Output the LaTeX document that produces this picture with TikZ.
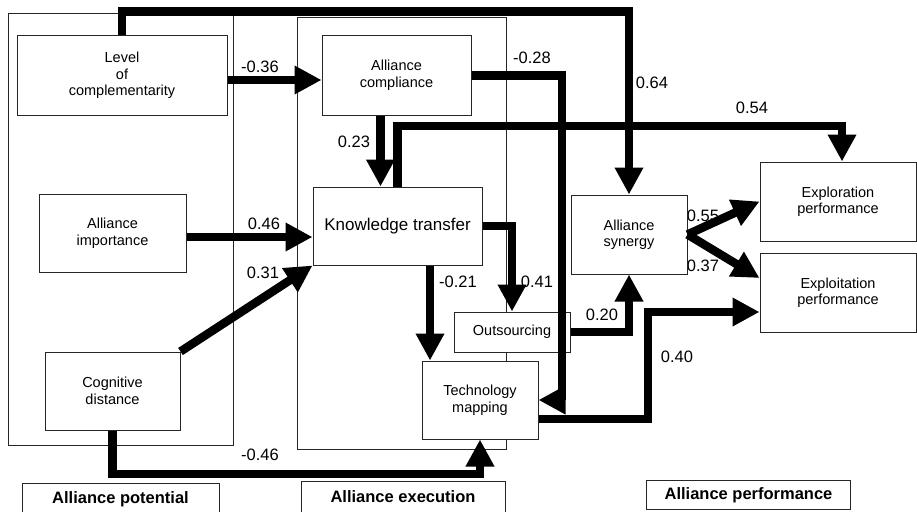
\documentclass[tikz,border=0pt]{standalone}
\usepackage{fontspec}
\setmainfont{Liberation Sans}
\usetikzlibrary{arrows.meta,calc}
\begin{document}
\begin{tikzpicture}[x=1pt,y=-1pt,
  box/.style={draw=black!85, line width=1pt, fill=white, inner sep=0pt, align=center,
    font=\fontsize{14.5}{16.5}\selectfont},
  region/.style={draw=black!85, line width=0.8pt},
  title/.style={draw=black!85, line width=1pt, fill=white, inner sep=0pt,
    font=\fontsize{16.5}{18}\selectfont\bfseries},
  coef/.style={inner sep=0pt, font=\fontsize{16.5}{18}\selectfont},
  conn/.style={line width=8.5pt, line join=miter, line cap=butt,
    -{Triangle[length=27pt,width=27pt]}}]
\useasboundingbox (0,0) rectangle (917,511);

% regions
\draw[region] (8,13) rectangle (233,445);
\draw[region] (297,17) rectangle (506,449);

% titles (bottom cut by page edge)
\node[title, minimum width=197pt, minimum height=36pt, anchor=north west] (tpot) at (22,483) {};
\node[coef, font=\fontsize{16.5}{18}\selectfont\bfseries] (tpott) at (120.5,499) {Alliance potential};
\node[title, minimum width=204pt, minimum height=38pt, anchor=north west] (texe) at (301,481) {};
\node[coef, font=\fontsize{16.5}{18}\selectfont\bfseries] (texet) at (403,497) {Alliance execution};
\node[title, minimum width=204pt, minimum height=29pt, anchor=north west] (tper) at (646,480) {Alliance performance};

% coefficient labels
\node[coef] (l36) at (260,67) {-0.36};
\node[coef] (l46) at (264,224) {0.46};
\node[coef] (l31) at (263,273) {0.31};
\node[coef] (l46n) at (260,455) {-0.46};
\node[coef] (l23) at (354,142) {0.23};
\node[coef] (l28) at (532,58) {-0.28};
\node[coef] (l64) at (652,83) {0.64};
\node[coef] (l54) at (752,108) {0.54};
\node[coef] (l55) at (703,216) {0.55};
\node[coef] (l37) at (703,266) {0.37};
\node[coef] (l21) at (458,282) {-0.21};
\node[coef] (l41) at (537,282) {0.41};
\node[coef] (l20) at (602,315) {0.20};
\node[coef] (l40) at (677,357) {0.40};

% boxes
\node[box, minimum width=210pt, minimum height=79pt] (lev) at (122,75.5) {Level\\of\\complementarity};
\node[box, minimum width=147pt, minimum height=78pt] (imp) at (112.5,233) {Alliance\\importance};
\node[box, minimum width=135pt, minimum height=78pt] (cog) at (112.5,391) {Cognitive\\distance};
\node[box, minimum width=149pt, minimum height=79pt] (com) at (396.5,75.5) {Alliance\\compliance};
\node[box, minimum width=169pt, minimum height=78pt, font=\fontsize{17}{19}\selectfont] (kt) at (397.5,226) {Knowledge transfer};
\node[box, minimum width=116pt, minimum height=40pt] (out) at (512,332) {Outsourcing};
\node[box, minimum width=116pt, minimum height=78pt] (tm) at (480,400) {Technology\\mapping};
\node[box, minimum width=116pt, minimum height=79pt] (syn) at (629,234.5) {Alliance\\synergy};
\node[box, minimum width=156pt, minimum height=79pt] (er) at (838,201.5) {Exploration\\performance};
\node[box, minimum width=156pt, minimum height=79pt] (ep) at (838,292.5) {Exploitation\\performance};

% helper coordinates
\coordinate (ytop) at (0,11.5);
\coordinate (y54) at (842,126);
\coordinate (x28) at (562,400);
\coordinate (ybot) at (0,474);
\coordinate (a46) at ([yshift=-4pt]imp.east);
\coordinate (a36) at ([yshift=-4.5pt]lev.east);
\coordinate (a23) at ([xshift=-16pt]com.south);
\coordinate (a21) at (430,0);
\coordinate (a40) at ([yshift=-19pt]tm.east);
\coordinate (b40) at (648,312);

% connectors
\draw[conn] (lev.north) |- (ytop -| syn.north) -- (syn.north);
\draw[conn] (a36) -- (a36 -| com.west);
\draw[conn] (a23) -- (a23 |- kt.north);
\draw[conn] (com.east) -| (x28) -- (tm.east);
\draw[conn] (kt.north) |- (y54) -- (y54 |- er.north);
\draw[conn] (a46) -- (a46 -| kt.west);
\draw[conn] (cog.north east) -- (kt.south west);
\draw[conn] (cog.south) |- (ybot -| tm.south) -- (tm.south);
\draw[conn] (a21 |- kt.south) -- (a21 |- tm.north);
\draw[conn] (kt.east) -| (out.north);
\draw[conn] (out.east) -| (syn.south);
\draw[conn] (a40) -| (b40) -- (b40 -| ep.west);
\draw[conn] (syn.east) -- (er.west);
\draw[conn] (syn.east) -- ([yshift=14.5pt]ep.west);
\end{tikzpicture}
\end{document}
